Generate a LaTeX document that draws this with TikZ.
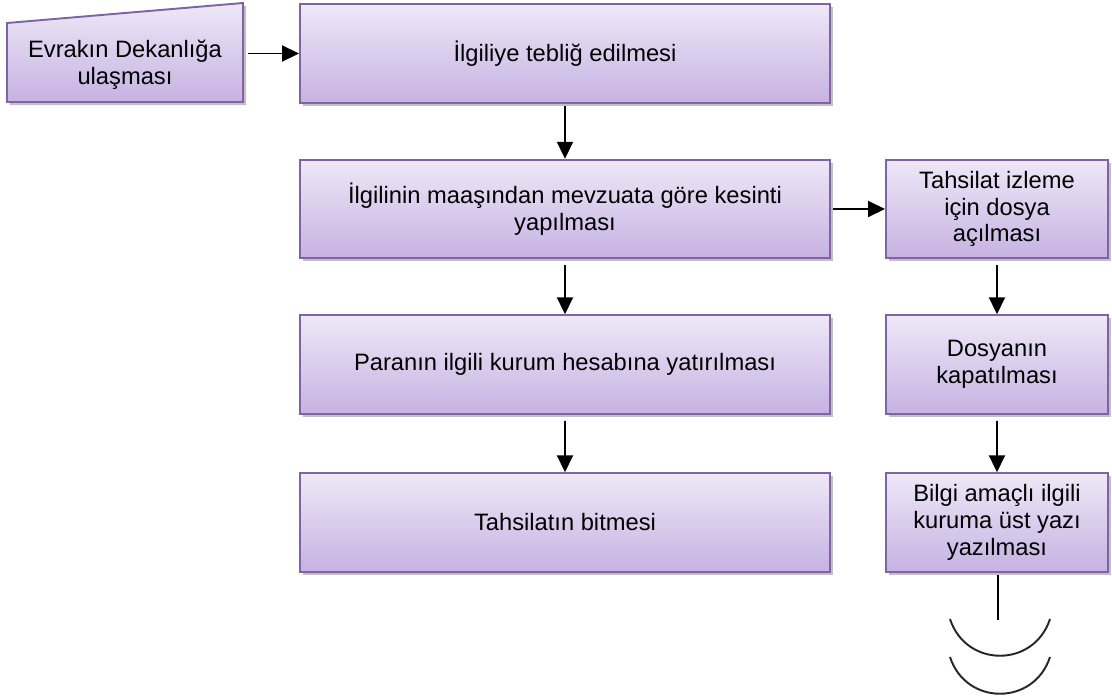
\documentclass[tikz,border=0pt]{standalone}
\usepackage{fontspec}
\setmainfont{Liberation Sans}
\usepackage{tikz}
\usetikzlibrary{arrows.meta,shadows}
\definecolor{morust}{HTML}{EEE8F7}
\definecolor{moralt}{HTML}{C6B2E2}
\definecolor{morcizgi}{HTML}{8064A2}
\begin{document}
\begin{tikzpicture}[scale=0.2]
        \tikzstyle{every node}+=[inner sep=0pt, align=center, font=\fontsize{13.5}{15.2}\selectfont]
        \tikzstyle{golge}=[drop shadow={shadow xshift=0.06cm, shadow yshift=-0.06cm, opacity=0.35, fill=black!70}]
        \tikzstyle{kutu}=[draw=morcizgi, line width=1.1pt, top color=morust, bottom color=moralt, golge, minimum height=1.97cm]
        \tikzstyle{genis}=[kutu, minimum width=10.6cm]
        \tikzstyle{dar}=[kutu, minimum width=4.44cm]
        \tikzstyle{ok}=[black, line width=1.1pt, -{Triangle[length=0.34cm, width=0.32cm]}]
        \useasboundingbox (0,0) rectangle (111.2,-69.8);
        % manual input shape
        \path [draw=morcizgi, line width=1.1pt, top color=morust, bottom color=moralt, golge]
          (0.7,-10.2) -- (0.7,-2.3) -- (24.3,-0.3) -- (24.3,-10.2) -- cycle;
        \node [minimum width=4.72cm] (evrak) at (12.5,-6.5) {Evrakın Dekanlığa\\ulaşması};
        % left column
        \node [genis] (teblig) at (56.5,-5.35) {İlgiliye tebliğ edilmesi};
        \node [genis] (kesinti) at (56.5,-20.9) {İlgilinin maaşından mevzuata göre kesinti\\yapılması};
        \node [genis] (para) at (56.5,-36.45) {Paranın ilgili kurum hesabına yatırılması};
        \node [genis] (bitis) at (56.5,-52.25) {Tahsilatın bitmesi};
        % right column
        \node [dar] (dosya) at (99.7,-20.9) {Tahsilat izleme\\için dosya\\açılması};
        \node [dar] (kapat) at (99.7,-36.45) {Dosyanın\\kapatılması};
        \node [dar] (bilgi) at (99.7,-52.25) {Bilgi amaçlı ilgili\\kuruma üst yazı\\yazılması};
        % arrows
        \draw [ok, shorten <=0.1cm] (evrak.east |- teblig.west) -- (teblig.west);
        \draw [ok, shorten <=0.04cm] (teblig.south) -- (kesinti.north);
        \draw [ok, shorten <=0.04cm] (kesinti.east) -- (dosya.west);
        \draw [ok, shorten <=0.12cm] (kesinti.south) -- (para.north);
        \draw [ok, shorten <=0.12cm] (para.south) -- (bitis.north);
        \draw [ok, shorten <=0.12cm] (dosya.south) -- (kapat.north);
        \draw [ok, shorten <=0.12cm] (kapat.south) -- (bilgi.north);
        % open end below the last box
        \coordinate (uc) at ([xshift=0.06cm, yshift=-0.22cm]bilgi.south);
        \draw [black, line width=1.1pt] (uc) -- ++(0,-4.5);
        \draw [black!85, line width=1.1pt] (95,-61.9) .. controls (96.6,-66.8) and (103.4,-66.8) .. (105,-61.9);
        \draw [black!85, line width=1.1pt] (95,-65.7) .. controls (96.6,-70.6) and (103.4,-70.6) .. (105,-65.7);
      \end{tikzpicture}
\end{document}
